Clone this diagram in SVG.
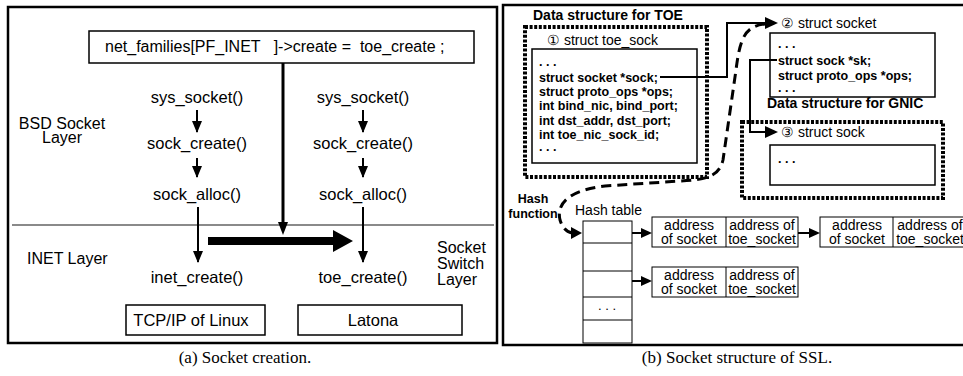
<svg xmlns="http://www.w3.org/2000/svg" width="963" height="376" viewBox="0 0 963 376">
<style>
text{font-family:"Liberation Sans",Arial,sans-serif;fill:#000}
.t16{font-size:16.5px}
.t15{font-size:16px}
.b13{font-size:12.5px;font-weight:bold}
.b14{font-size:14px;font-weight:bold}
.r14{font-size:14px}
.r13{font-size:13px}
.cap{font-family:"Liberation Serif","Times New Roman",serif;font-size:17px}
.box{fill:#fff;stroke:#000;stroke-width:1.5}
.thin{fill:#fff;stroke:#000;stroke-width:1}
.dot{fill:none;stroke:#000;stroke-width:4;stroke-dasharray:3 1.6}
.ar{fill:none;stroke:#000;stroke-width:2;marker-end:url(#ah)}
.c{text-anchor:middle}
</style>
<defs>
<marker id="ah" markerWidth="12" markerHeight="10" refX="11" refY="5" orient="auto" markerUnits="userSpaceOnUse"><path d="M0,0 L12,5 L0,10 z" fill="#000"/></marker>
</defs>
<rect width="963" height="376" fill="#fff"/>

<!-- Panel (a) -->
<g id="panelA">
<rect x="8" y="7" width="489" height="336" fill="none" stroke="#000" stroke-width="2.5"/>
<line x1="12" y1="225" x2="494" y2="225" stroke="#8a8a8a" stroke-width="2"/>
</g>
<g id="netFamilies">
<rect class="box" x="89" y="31" width="385" height="32"/>
<text class="t15" x="105" y="52" xml:space="preserve">net_families[PF_INET   ]-&gt;create =  toe_create ;</text>
</g>
<g id="bsdLabel"><text class="t15 c" x="62" y="129">BSD Socket</text><text class="t15 c" x="62" y="143">Layer</text></g>
<g id="inetLabel"><text class="t15" x="27" y="264">INET Layer</text></g>
<g id="sslLabel"><text class="t15" x="437" y="253">Socket</text><text class="t15" x="437" y="269">Switch</text><text class="t15" x="437" y="285">Layer</text></g>
<g id="sysL"><text class="t16 c" x="197" y="103">sys_socket()</text></g>
<g id="createL"><text class="t16 c" x="197" y="149">sock_create()</text></g>
<g id="allocL"><text class="t16 c" x="197" y="200">sock_alloc()</text></g>
<g id="inetCreate"><text class="t16 c" x="197" y="283">inet_create()</text></g>
<g id="sysR"><text class="t16 c" x="363" y="103">sys_socket()</text></g>
<g id="createR"><text class="t16 c" x="363" y="149">sock_create()</text></g>
<g id="allocR"><text class="t16 c" x="363" y="200">sock_alloc()</text></g>
<g id="toeCreate"><text class="t16 c" x="363" y="283">toe_create()</text></g>
<g id="tcpip"><rect class="box" x="126" y="305" width="139" height="30"/><text class="t16 c" x="191" y="326">TCP/IP of Linux</text></g>
<g id="latona"><rect class="box" x="298" y="305" width="164" height="30"/><text class="t16 c" x="373" y="326">Latona</text></g>

<!-- Panel (b) -->
<g id="panelB">
<rect x="503" y="5" width="470" height="340" fill="none" stroke="#000" stroke-width="2.5"/>
</g>
<g id="toeStruct">
<text class="b14" x="533" y="20">Data structure for TOE</text>
<rect class="dot" x="525" y="27" width="182" height="150"/>
<text class="r14" x="547" y="45" fill="#222">① struct toe_sock</text>
<rect class="box" x="532" y="49" width="165" height="114"/>
<text class="b13" x="539" y="66">. . .</text>
<text class="b13" x="539" y="82">struct socket *sock;</text>
<text class="b13" x="539" y="96">struct proto_ops *ops;</text>
<text class="b13" x="539" y="110">int bind_nic, bind_port;</text>
<text class="b13" x="539" y="125">int dst_addr, dst_port;</text>
<text class="b13" x="539" y="139">int toe_nic_sock_id;</text>
<text class="b13" x="539" y="151">. . .</text>
</g>
<g id="socketStruct">
<text class="r14" x="781" y="28" fill="#222">② struct socket</text>
<rect class="box" x="770" y="33" width="165" height="64"/>
<text class="b13" x="778" y="48">. . .</text>
<text class="b13" x="778" y="65">struct sock *sk;</text>
<text class="b13" x="778" y="80">struct proto_ops *ops;</text>
<text class="b13" x="778" y="92">. . .</text>
</g>
<g id="gnicStruct">
<text class="b14" x="767" y="108">Data structure for GNIC</text>
<rect class="dot" x="742" y="122" width="201" height="76"/>
<text class="r14" x="781" y="137" fill="#222">③ struct sock</text>
<rect class="box" x="770" y="145" width="165" height="40"/>
<text class="b13" x="778" y="163">. . .</text>
</g>
<g id="hashLabel"><text class="b13 c" x="533" y="203">Hash</text><text class="b13 c" x="533" y="218">function</text></g>
<g id="hashTable">
<text class="r14" x="575" y="215">Hash table</text>
<rect class="thin" x="583" y="221" width="49" height="122" stroke-width="1.5"/>
<line x1="583" y1="243" x2="632" y2="243" stroke="#000"/>
<line x1="583" y1="271" x2="632" y2="271" stroke="#000"/>
<line x1="583" y1="297" x2="632" y2="297" stroke="#000"/>
<line x1="583" y1="320" x2="632" y2="320" stroke="#000"/>
<text class="r13 c" x="607" y="310">. . .</text>
</g>
<g id="entry1">
<rect class="thin" x="652" y="217" width="146" height="30"/>
<line x1="726" y1="217" x2="726" y2="247" stroke="#000"/>
<text class="r14 c" x="689" y="230">address</text><text class="r14 c" x="689" y="244">of socket</text>
<text class="r14 c" x="762" y="230">address of</text><text class="r14 c" x="762" y="244">toe_socket</text>
</g>
<g id="entry2">
<rect class="thin" x="820" y="217" width="146" height="30"/>
<line x1="893" y1="217" x2="893" y2="247" stroke="#000"/>
<text class="r14 c" x="857" y="230">address</text><text class="r14 c" x="857" y="244">of socket</text>
<text class="r14 c" x="930" y="230">address of</text><text class="r14 c" x="930" y="244">toe_socket</text>
</g>
<g id="entry3">
<rect class="thin" x="652" y="267" width="146" height="30"/>
<line x1="726" y1="267" x2="726" y2="297" stroke="#000"/>
<text class="r14 c" x="689" y="280">address</text><text class="r14 c" x="689" y="294">of socket</text>
<text class="r14 c" x="762" y="280">address of</text><text class="r14 c" x="762" y="294">toe_socket</text>
</g>

<g id="connectors">
<line class="ar" x1="197" y1="110" x2="197" y2="132"/>
<line class="ar" x1="197" y1="158" x2="197" y2="177"/>
<line class="ar" x1="198" y1="207" x2="198" y2="262"/>
<line class="ar" x1="363" y1="110" x2="363" y2="132"/>
<line class="ar" x1="363" y1="158" x2="363" y2="177"/>
<line class="ar" x1="363" y1="207" x2="363" y2="262"/>
<line x1="283" y1="63" x2="283" y2="225" stroke="#000" stroke-width="3"/>
<path d="M278,222 L288,222 L283,235 z" fill="#000"/>
<path d="M208,237 L333,237 L333,230 L353,241 L333,252 L333,245 L208,245 z" fill="#000"/>
<path d="M660,77 L727,77 L727,23 L767,23" fill="none" stroke="#000" stroke-width="2"/>
<path d="M765,17 L778,23 L765,29 z" fill="#000"/>
<path d="M777,60 L750,60 L750,132 L767,132" fill="none" stroke="#000" stroke-width="2"/>
<path d="M765,126 L778,132 L765,138 z" fill="#000"/>
<path d="M765,24 C745,26 740,38 736,70 L723,160 C719,177 705,180 680,181 L605,186 C570,190 556,203 560,220 C563,229 567,232 572,233" fill="none" stroke="#000" stroke-width="3" stroke-dasharray="10 6"/>
<path d="M571,227 L582,233 L571,239 z" fill="#000"/>
<line x1="632" y1="233" x2="643" y2="233" stroke="#000" stroke-width="2"/>
<path d="M641,228 L652,233 L641,238 z" fill="#000"/>
<line x1="798" y1="233" x2="811" y2="233" stroke="#000" stroke-width="2"/>
<path d="M809,228 L820,233 L809,238 z" fill="#000"/>
<line x1="632" y1="281" x2="643" y2="281" stroke="#000" stroke-width="2"/>
<path d="M641,276 L652,281 L641,286 z" fill="#000"/>
</g>

<g id="captions">
<text class="cap c" x="245" y="363">(a) Socket creation.</text>
<text class="cap c" x="737" y="363">(b) Socket structure of SSL.</text>
</g>
</svg>
